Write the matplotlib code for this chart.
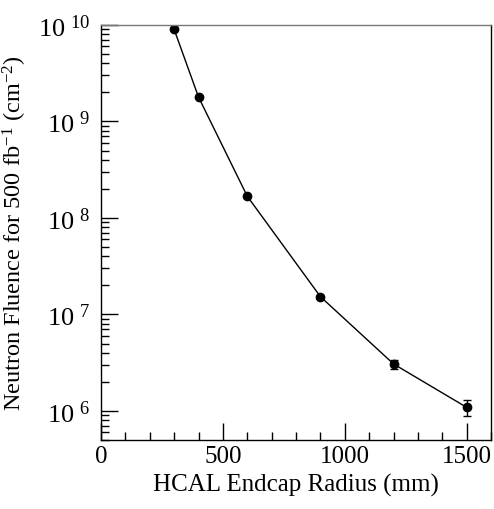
import numpy as np
import matplotlib.pyplot as plt
from matplotlib.ticker import FuncFormatter, MultipleLocator, LogLocator

plt.rcParams['font.family'] = ['Liberation Serif', 'DejaVu Serif']
plt.rcParams['mathtext.fontset'] = 'custom'
plt.rcParams['mathtext.rm'] = 'Liberation Serif'
plt.rcParams['mathtext.it'] = 'Liberation Serif:italic'

radius = [300, 400, 600, 900, 1200, 1500]
fluence = [9.0e9, 1.79e9, 1.68e8, 1.53e7, 3.07e6, 1.09e6]
fluence_err = [0, 0, 0, 0, 0.33e6, 0.21e6]

fig = plt.figure(figsize=(4.94, 5.10), dpi=100)
ax = fig.add_axes([0.2045, 0.1353, 0.7895, 0.8137])

ax.errorbar(radius, fluence, yerr=fluence_err, color='black', marker='o',
            markersize=6, linewidth=1, capsize=3, elinewidth=1)

ax.set_yscale('log')
ax.set_xlim(0, 1600)
ax.set_ylim(5e5, 1e10)

ax.xaxis.set_major_locator(MultipleLocator(500))
ax.xaxis.set_minor_locator(MultipleLocator(100))
ax.yaxis.set_major_locator(LogLocator(base=10, numticks=10))
ax.yaxis.set_minor_locator(LogLocator(base=10, subs=np.arange(2, 10), numticks=20))
ax.yaxis.set_minor_formatter(FuncFormatter(lambda v, p: ''))
ax.yaxis.set_major_formatter(FuncFormatter(
    lambda v, p: r'10$^{\;\,%d}$' % int(round(np.log10(v)))))

ax.tick_params(which='both', direction='in', top=False, right=False, labelsize=18)
ax.tick_params(axis='y', labelsize=19)
ax.tick_params(which='major', length=12, width=1)
ax.tick_params(which='minor', length=6, width=1)
ax.tick_params(axis='y', pad=8)

for s in ax.spines.values():
    s.set_linewidth(1)
ax.spines['top'].set_color('#777777')

ax.set_xlabel('HCAL Endcap Radius (mm)', fontsize=18)
ax.set_ylabel(r'Neutron Fluence for 500 fb$^{-1}$ (cm$^{-2}$)', fontsize=17.5, labelpad=6)

fig.savefig('out.png', dpi=100)
